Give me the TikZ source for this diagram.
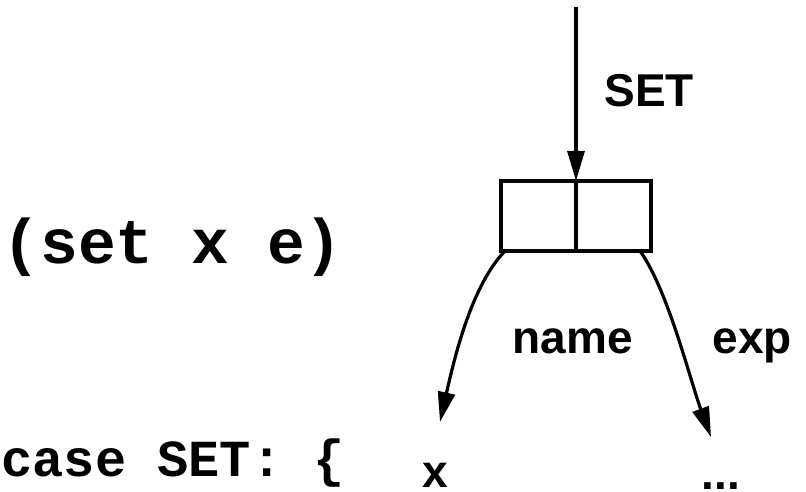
\documentclass[tikz,border=0pt]{standalone}
\usepackage{fontspec}
\setmainfont{Liberation Sans}
\newfontfamily\codefont{Liberation Mono}
\usetikzlibrary{arrows.meta}
\begin{document}
\begin{tikzpicture}[x=1pt,y=-1pt,
  line width=3.2pt,
  cellbox/.style={draw,line width=3.2pt,minimum width=75pt,minimum height=70pt,inner sep=0pt,outer sep=0pt},
  lbl/.style={inner sep=0pt,anchor=base west,font=\fontsize{46}{50}\selectfont\bfseries},
  code/.style={inner sep=0pt,anchor=base west},
  arr/.style={-{Triangle[length=30pt,width=17pt]}}]
\useasboundingbox (0,0) rectangle (806,492);
% box
\node[cellbox] (L) at (538.5,216) {};
\node[cellbox] (R) at (613.5,216) {};
\coordinate (top) at (576,7);
\coordinate (xtip) at (440,422);
\coordinate (dtip) at (711,437);
% texts
\node[code,font=\fontsize{63}{66}\selectfont\codefont\bfseries] (sexp) at (1,263) {(set x e)};
\node[code,font=\fontsize{52}{56}\selectfont\codefont\bfseries] (case) at (0,476) {case SET: \{};
\node[lbl] (set) at (603,107) {SET};
\node[lbl] (name) at (511,353) {name};
\node[lbl] (exp) at (711,353) {exp};
\node[lbl] (x) at (421,487) {x};
\node[lbl] (dots) at (700,489) {...};
% connectors
\draw[arr] (top) -- (L.north east);
\draw[arr] ([xshift=4pt]L.south west) .. controls (472,285) and (455,355) .. (xtip);
\draw[arr] ([xshift=-11pt]R.south east) .. controls (668,290) and (690,380) .. (dtip);
\end{tikzpicture}
\end{document}
